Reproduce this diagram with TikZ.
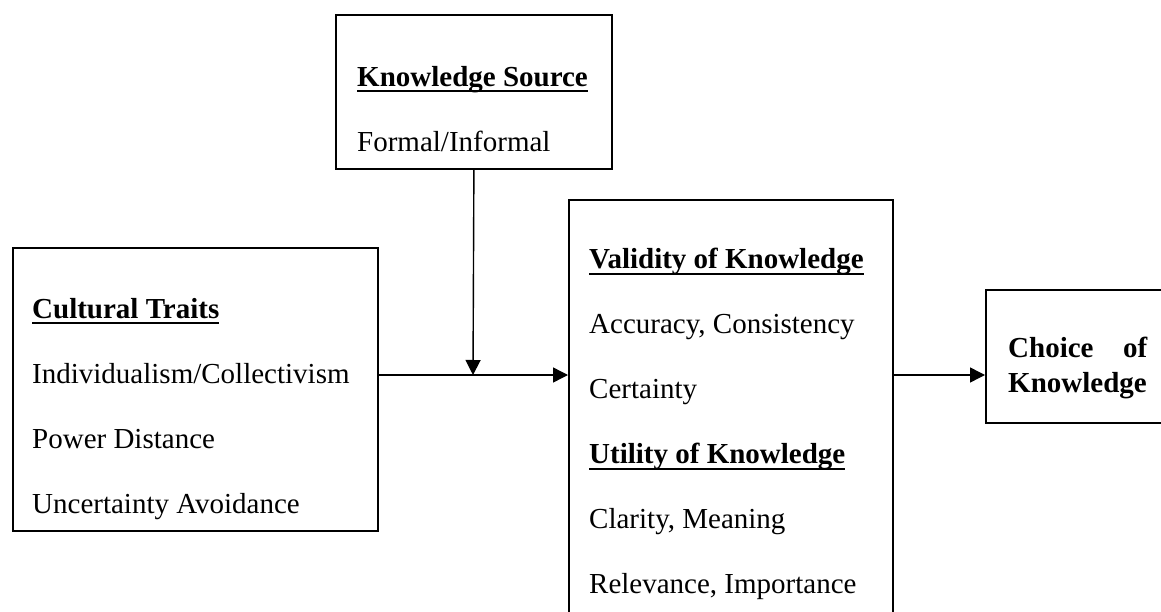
\documentclass[tikz,border=0pt]{standalone}
\usepackage{fontspec}
\setmainfont{Liberation Serif}
\usetikzlibrary{arrows.meta}
\newsavebox{\headbox}
\newcommand{\heading}[1]{\sbox{\headbox}{\bfseries #1}\rlap{\rule[-6pt]{\wd\headbox}{2pt}}\usebox{\headbox}}

\tikzset{
  panel/.style={draw, line width=1.8pt, inner sep=0pt, anchor=north west},
  paneltext/.style={anchor=north west, inner sep=0pt, align=left, font=\fontsize{29pt}{65pt}\selectfont},
  flow/.style={line width=1.4pt, -{Triangle[length=15pt,width=15pt]}}
}

\begin{document}
\begin{tikzpicture}[x=1pt,y=-1pt]

\useasboundingbox (0,0) rectangle (1161,612);
\clip (0,0) rectangle (1161,612);

% Draw the four boxes
\node[panel, minimum width=276pt, minimum height=154pt] (source) at (335,14) {};
\node[panel, minimum width=365pt, minimum height=283pt] (traits) at (12,247) {};
\node[panel, minimum width=324pt, minimum height=470pt] (quality) at (568,199) {};
\node[panel, minimum width=200pt, minimum height=133pt] (choice) at (985,289) {};

% Texts inside the boxes
\node[paneltext] (sourcetext) at ([shift={(22,52)}]source.north west)
  {\heading{Knowledge Source}\\ Formal/Informal};
\node[paneltext] (traitstext) at ([shift={(20,51)}]traits.north west)
  {\heading{Cultural Traits}\\ Individualism/Collectivism\\ Power Distance\\ Uncertainty Avoidance};
\node[paneltext] (qualitytext) at ([shift={(21,49)}]quality.north west)
  {\heading{Validity of Knowledge}\\ Accuracy, Consistency\\ Certainty\\
   \heading{Utility of Knowledge}\\ Clarity, Meaning\\ Relevance, Importance};
\node[paneltext, text width=139pt, align=justify, font=\bfseries\fontsize{29pt}{35pt}\selectfont]
  (choicetext) at ([shift={(23,48)}]choice.north west) {Choice of\linebreak Knowledge};

% Arrows
\coordinate (meet) at (473,375);
\draw[flow] (source.south) -- (meet);
\draw[flow] (traits.east |- meet) -- (quality.west |- meet);
\draw[flow] (quality.east |- meet) -- (choice.west |- meet);

\end{tikzpicture}
\end{document}
